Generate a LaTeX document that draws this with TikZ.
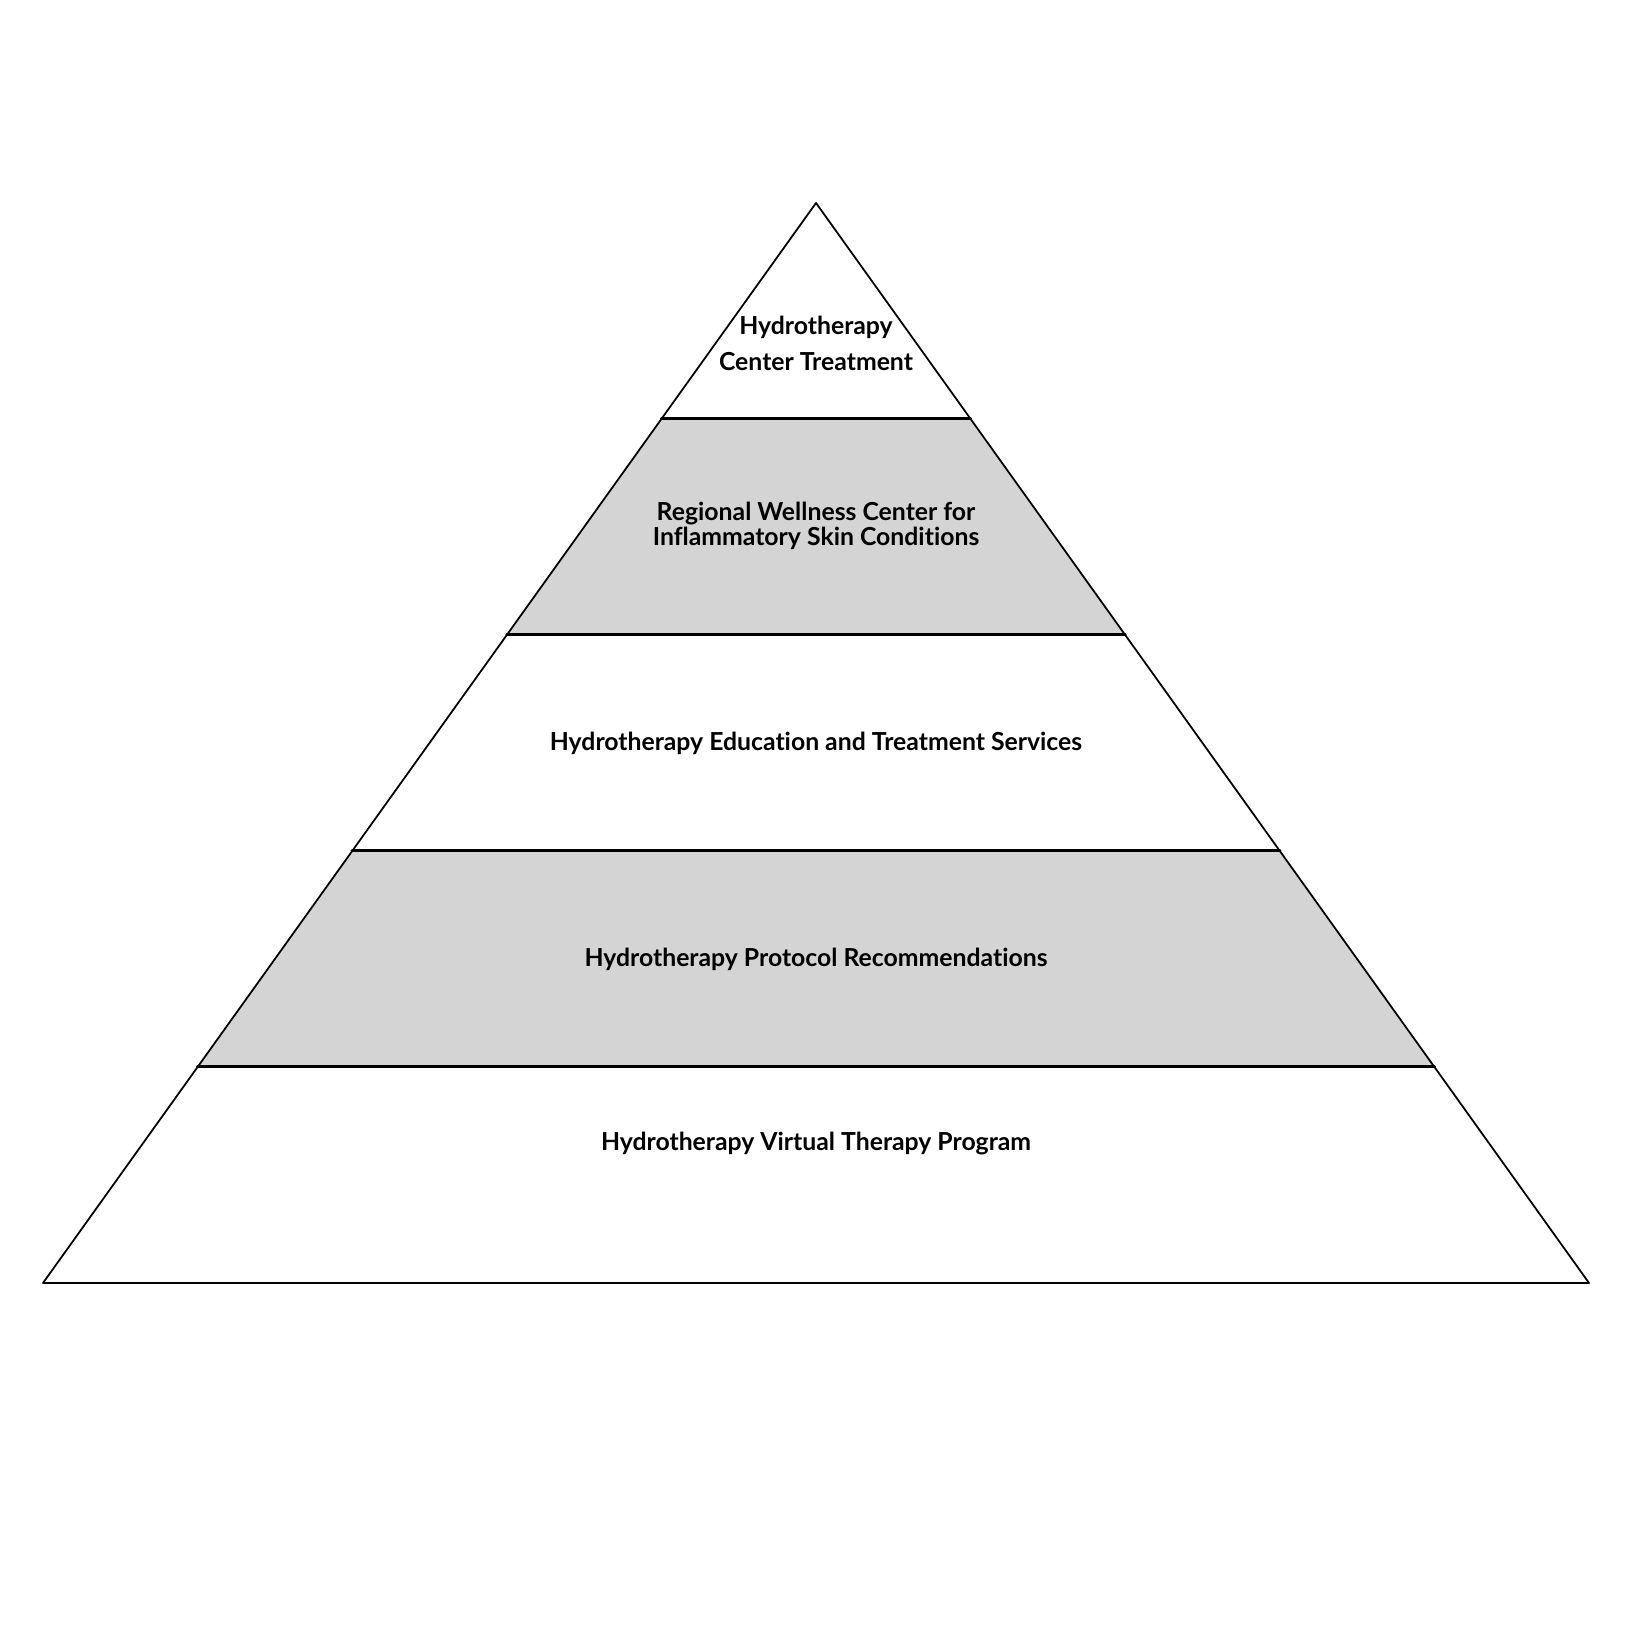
\documentclass[tikz,border=0pt]{standalone}
\usepackage{fontspec}
\setmainfont[Ligatures=NoCommon]{Lato}
\usetikzlibrary{calc}
\begin{document}
\begin{tikzpicture}[line join=round,line cap=round,font=\fontsize{7.05}{8.4}\selectfont\bfseries]
	\useasboundingbox (0,0) rectangle (16.52,16.52);
	\def\xl{0.43} \def\xr{15.89} \def\xm{8.16}
	\def\ybot{3.69} \def\ytop{14.49}
	\definecolor{bandgray}{HTML}{D4D4D4}
	\coordinate (A) at (\xm,\ytop);
	\coordinate (L) at (\xl,\ybot);
	\coordinate (R) at (\xr,\ybot);
	\foreach \i in {1,...,4}{
		\coordinate (L\i) at ($(A)!\i/5!(L)$);
		\coordinate (R\i) at ($(A)!\i/5!(R)$);
	}
	\fill[bandgray] (L1)--(R1)--(R2)--(L2)--cycle;
	\fill[bandgray] (L3)--(R3)--(R4)--(L4)--cycle;
	\foreach \i in {1,...,4}
		\draw[line width=0.85pt] (L\i)--(R\i);
	\draw[line width=0.5pt] (A)--(L)--(R)--cycle;
	\node[align=center] (top) at (\xm,13.09) {Hydrotherapy\\[1.8pt]Center Treatment};
	\node[align=center] (regional) at (\xm,11.26) {Regional Wellness Center for\\[-1.4pt]Inflammatory Skin Conditions};
	\node (education) at (\xm,9.09) {Hydrotherapy Education and Treatment Services};
	\node (protocol) at (\xm,6.93) {Hydrotherapy Protocol Recommendations};
	\node (virtual) at (\xm,5.08) {Hydrotherapy Virtual Therapy Program};
\end{tikzpicture}
\end{document}
